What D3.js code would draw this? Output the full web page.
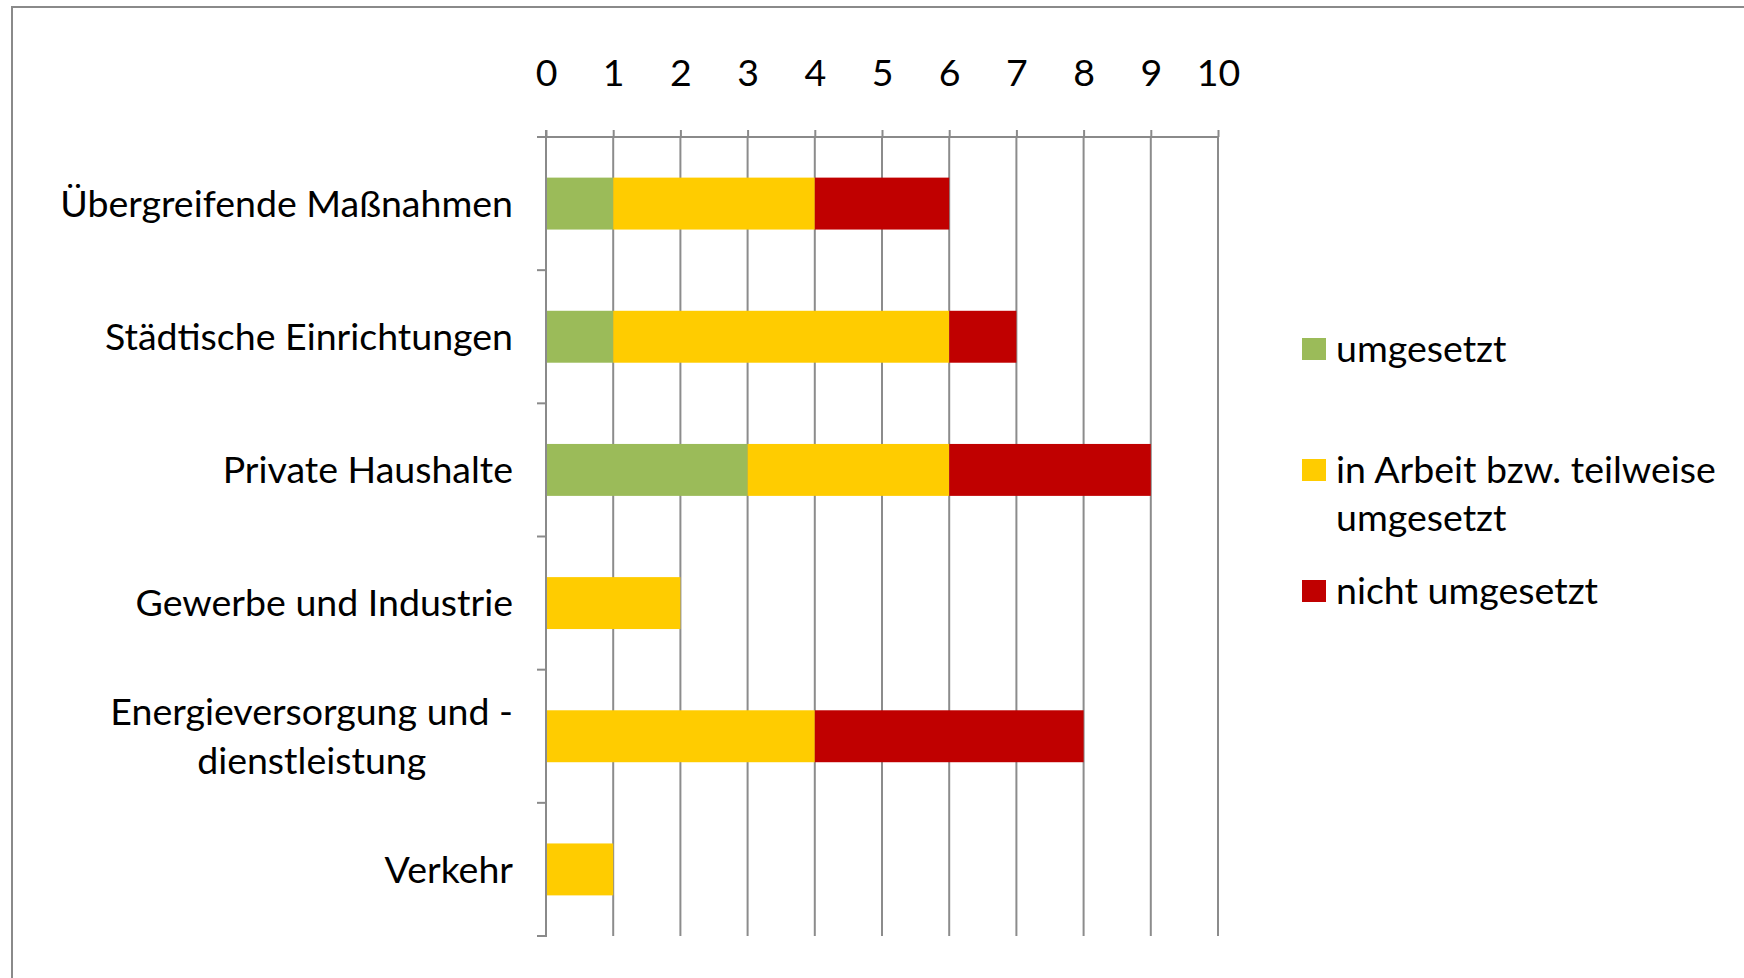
<!DOCTYPE html>
<html>
<head>
<meta charset="utf-8">
<script src="https://cdn.jsdelivr.net/npm/d3@7"></script>
<style>
  body { margin: 0; background: #fff; }
  text { font-family: Lato, "Noto Sans", sans-serif; fill: #000; }
</style>
</head>
<body>
<svg width="1744" height="978"></svg>
<script>
const categories = [
  ["Übergreifende Maßnahmen"],
  ["Städtische Einrichtungen"],
  ["Private Haushalte"],
  ["Gewerbe und Industrie"],
  ["Energieversorgung und -", "dienstleistung"],
  ["Verkehr"]
];
const seriesNames = ["umgesetzt", "in Arbeit bzw. teilweise umgesetzt", "nicht umgesetzt"];
const umgesetzt = [1, 1, 3, 0, 0, 0];
const inArbeit = [3, 5, 3, 2, 4, 1];
const nichtUmgesetzt = [2, 1, 3, 0, 4, 0];
const xTicks = [0, 1, 2, 3, 4, 5, 6, 7, 8, 9, 10];
const colors = ["#9bbb59", "#ffcc00", "#c00000"];

const rows = categories.map((c, i) => ({
  key: i,
  umgesetzt: umgesetzt[i],
  inArbeit: inArbeit[i],
  nicht: nichtUmgesetzt[i]
}));
const stack = d3.stack().keys(["umgesetzt", "inArbeit", "nicht"]);
const series = stack(rows);

const svg = d3.select("svg");
const fontSize = 37.5;

// chart frame
svg.append("rect")
  .attr("x", 12).attr("y", 7)
  .attr("width", 1800).attr("height", 1000)
  .attr("fill", "none")
  .attr("stroke", "#8a8a8a")
  .attr("stroke-width", 2);

const x = d3.scaleLinear().domain([0, 10]).range([546, 1218]);
const y = d3.scaleBand().domain(d3.range(categories.length)).range([137, 936]).paddingInner(0.61).paddingOuter(0.305);
const yb = d3.scaleBand().domain(d3.range(categories.length)).range([137, 936]);

// GRIDLINES
svg.append("g")
  .selectAll("line")
  .data(xTicks.slice(1))
  .join("line")
  .attr("x1", d => x(d)).attr("x2", d => x(d))
  .attr("y1", 137).attr("y2", 936)
  .attr("stroke", "#8c8c8c")
  .attr("stroke-width", 2);

// BARS
svg.append("g")
  .selectAll("g")
  .data(series)
  .join("g")
  .attr("fill", (d, i) => colors[i])
  .selectAll("rect")
  .data(d => d)
  .join("rect")
  .attr("x", d => x(d[0]))
  .attr("width", d => x(d[1]) - x(d[0]))
  .attr("y", (d, i) => y(i))
  .attr("height", y.bandwidth());

// TOP AXIS
const xAxis = svg.append("g")
  .attr("transform", "translate(0,137)")
  .call(d3.axisTop(x).tickValues(xTicks).tickSize(7).tickPadding(44).tickSizeOuter(0));
xAxis.select(".domain").attr("stroke", "#8a8a8a").attr("stroke-width", 2)
  .attr("d", `M${x(0) - 9},0H${x(10)}`);
xAxis.selectAll(".tick line").attr("stroke", "#8a8a8a").attr("stroke-width", 2);
xAxis.selectAll(".tick text")
  .attr("font-size", fontSize)
  .attr("font-family", "Lato, 'Noto Sans', sans-serif")
  .attr("fill", "#000");

// LEFT AXIS
const yAxisG = svg.append("g");
yAxisG.append("line")
  .attr("x1", x(0)).attr("x2", x(0))
  .attr("y1", 130).attr("y2", 937)
  .attr("stroke", "#8a8a8a").attr("stroke-width", 2);
yAxisG.selectAll("line.cat")
  .data(d3.range(categories.length + 1))
  .join("line")
  .attr("class", "cat")
  .attr("x1", x(0) - 9).attr("x2", x(0))
  .attr("y1", d => d < categories.length ? yb(d) : 936)
  .attr("y2", d => d < categories.length ? yb(d) : 936)
  .attr("stroke", "#8a8a8a").attr("stroke-width", 2);

// CATEGORY LABELS
const labels = svg.append("g")
  .selectAll("text")
  .data(categories)
  .join("text")
  .attr("font-size", fontSize)
  .attr("text-anchor", d => d.length > 1 ? "middle" : "end")
  .attr("transform", (d, i) => {
    const cy = yb(i) + yb.bandwidth() / 2;
    return `translate(513,${cy})`;
  });
labels.each(function(d) {
  const t = d3.select(this);
  const lh = 49;
  d.forEach((line, j) => {
    t.append("tspan")
      .attr("x", 0)
      .attr("y", (j - (d.length - 1) / 2) * lh)
      .attr("dy", "0.35em")
      .text(line);
  });
});
// center multi-line label blocks so widest line ends at the axis gap
labels.filter(d => d.length > 1).each(function() {
  const w = this.getBBox().width;
  d3.select(this).selectAll("tspan").attr("x", -w / 2);
});

// LEGEND
const legendRows = [
  { lines: ["umgesetzt"], y: 349 },
  { lines: ["in Arbeit bzw. teilweise", "umgesetzt"], y: 470 },
  { lines: ["nicht umgesetzt"], y: 591 }
];
const legend = svg.append("g")
  .selectAll("g")
  .data(legendRows)
  .join("g")
  .attr("transform", d => `translate(1302,${d.y})`);
legend.append("rect")
  .attr("x", 0).attr("y", -11)
  .attr("width", 24).attr("height", 22)
  .attr("fill", (d, i) => colors[i]);
legend.append("text")
  .attr("font-size", fontSize)
  .selectAll("tspan")
  .data(d => d.lines)
  .join("tspan")
  .attr("x", 34)
  .attr("y", (d, j) => j * 48)
  .attr("dy", "0.35em")
  .text(d => d);
</script>
</body>
</html>
